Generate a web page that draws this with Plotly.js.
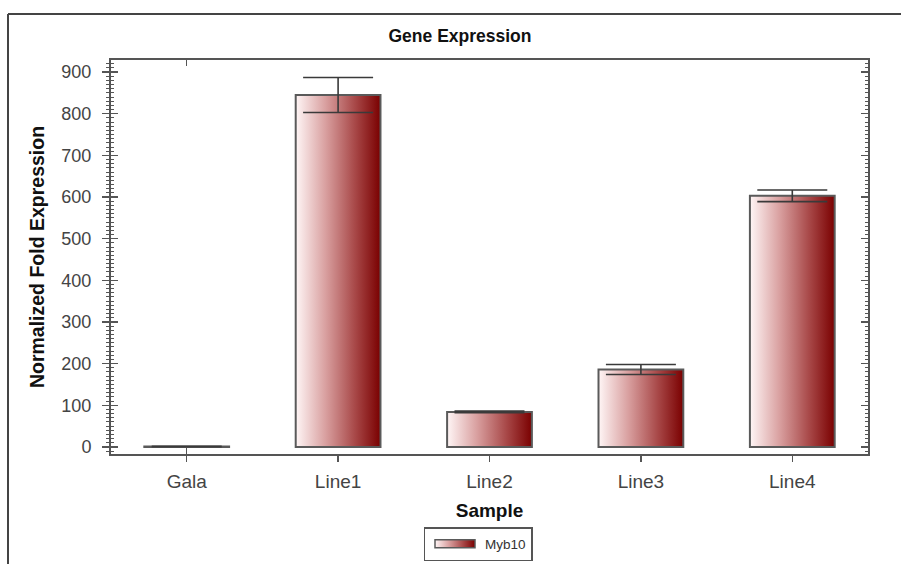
<!DOCTYPE html>
<html>
<head>
<meta charset="utf-8">
<script src="https://cdn.plot.ly/plotly-3.0.1.min.js"></script>
<style>html,body{margin:0;padding:0;background:#fff;}#chart{width:901px;height:564px;}</style>
</head>
<body>
<div id="chart"></div>
<script>
// ---- data ----
const categories = ['Gala', 'Line1', 'Line2', 'Line3', 'Line4'];
const values = [1, 845, 84, 186, 603];
const errors = [0.5, 42, 2, 12, 14];
const seriesName = 'Myb10';
const chartTitle = 'Gene Expression';
const xTitle = 'Sample';
const yTitle = 'Normalized Fold Expression';
const yTickVals = [0, 100, 200, 300, 400, 500, 600, 700, 800, 900];

const FONT = 'Liberation Sans, Arial, sans-serif';
const AX = '#555';

const trace = {
  type: 'bar',
  x: categories,
  y: values,
  name: seriesName,
  width: 0.56,
  marker: { color: '#b35555', line: { color: '#5a5a5a', width: 2 } },
  error_y: { type: 'data', array: errors, visible: true, color: '#3a3a3a', thickness: 1.6, width: 35 },
  showlegend: true
};
// invisible helper traces to activate overlay axes (for ticks crossing the axis lines)
const helperY = { type: 'scatter', x: [categories[0]], y: [0], xaxis: 'x', yaxis: 'y2', mode: 'markers', marker: { opacity: 0 }, showlegend: false, hoverinfo: 'skip' };
const helperX = { type: 'scatter', x: [categories[0]], y: [0], xaxis: 'x2', yaxis: 'y', mode: 'markers', marker: { opacity: 0 }, showlegend: false, hoverinfo: 'skip' };

const yRange = [-17, 929];
const xRange = [-0.5, 4.5];

const layout = {
  width: 901, height: 564,
  margin: { l: 111, r: 33, t: 60, b: 110, autoexpand: false },
  paper_bgcolor: '#fff', plot_bgcolor: '#fff',
  font: { family: FONT, color: '#333' },
  showlegend: true,
  title: { text: '<b>' + chartTitle + '</b>', font: { family: FONT, size: 17.5, color: '#111' }, x: 460 / 901, xref: 'container', xanchor: 'center', y: 1 - 36 / 564, yref: 'container', yanchor: 'middle' },
  xaxis: {
    range: xRange, type: 'category', showgrid: false, zeroline: false,
    showline: true, linecolor: AX, linewidth: 2, mirror: true,
    ticks: 'outside', ticklen: 6, tickcolor: AX, tickwidth: 1.5, ticklabelstandoff: 3,
    tickfont: { family: FONT, size: 19, color: '#444' },
    title: { text: '<b>' + xTitle + '</b>', font: { family: FONT, size: 19, color: '#111' }, standoff: 13 }
  },
  xaxis2: {
    range: xRange, type: 'category', overlaying: 'x', showgrid: false, zeroline: false,
    showline: false, mirror: 'allticks', ticks: 'inside', ticklen: 6, tickcolor: AX, tickwidth: 1.5,
    showticklabels: false
  },
  yaxis: {
    range: yRange, showgrid: false, zeroline: false,
    showline: true, linecolor: AX, linewidth: 2, mirror: true,
    tickvals: yTickVals, ticks: 'outside', ticklen: 7, tickcolor: AX, tickwidth: 1.5, ticklabelstandoff: 7,
    minor: { dtick: 10, ticks: 'outside', ticklen: 3, tickcolor: AX, tickwidth: 1 },
    tickfont: { family: FONT, size: 18, color: '#444' },
    title: { text: '<b>' + yTitle + '</b>', font: { family: FONT, size: 19.5, color: '#111' }, standoff: 12 }
  },
  yaxis2: {
    range: yRange, overlaying: 'y', side: 'left', showgrid: false, zeroline: false,
    showline: false, mirror: 'allticks', tickvals: yTickVals, ticks: 'inside', ticklen: 7, tickcolor: AX, tickwidth: 1.5,
    minor: { dtick: 10, ticks: 'inside', ticklen: 3, tickcolor: AX, tickwidth: 1 },
    showticklabels: false
  },
  legend: {
    orientation: 'h', xref: 'container', yref: 'container',
    x: 478 / 901, xanchor: 'center', y: (564 - 561) / 564, yanchor: 'bottom',
    bordercolor: '#555', borderwidth: 1.5, bgcolor: '#fff',
    font: { family: FONT, size: 13.5, color: '#333' },
    itemwidth: 50, tracegroupgap: 0
  },
  shapes: [
    { type: 'line', xref: 'paper', yref: 'paper', x0: (8 - 111) / 757, x1: (905 - 111) / 757, y0: (454 - 14) / 394, y1: (454 - 14) / 394, line: { color: '#444', width: 2 } },
    { type: 'line', xref: 'paper', yref: 'paper', x0: (8 - 111) / 757, x1: (8 - 111) / 757, y0: (454 - 14) / 394, y1: (454 - 570) / 394, line: { color: '#444', width: 2 } }
  ]
};

Plotly.newPlot('chart', [trace, helperY, helperX], layout, { displayModeBar: false, staticPlot: true }).then(function (gd) {
  const svgNS = 'http://www.w3.org/2000/svg';
  const svg = gd.querySelector('svg.main-svg');
  const defs = document.createElementNS(svgNS, 'defs');
  const grad = document.createElementNS(svgNS, 'linearGradient');
  grad.setAttribute('id', 'barGrad');
  grad.setAttribute('x1', '0'); grad.setAttribute('y1', '0');
  grad.setAttribute('x2', '1'); grad.setAttribute('y2', '0');
  [['0', '#fff6f6'], ['0.35', '#d9a0a0'], ['0.7', '#a84848'], ['1', '#7a0000']].forEach(function (s) {
    const st = document.createElementNS(svgNS, 'stop');
    st.setAttribute('offset', s[0]);
    st.setAttribute('stop-color', s[1]);
    grad.appendChild(st);
  });
  defs.appendChild(grad);
  svg.insertBefore(defs, svg.firstChild);
  gd.querySelectorAll('.trace.bars .point path').forEach(function (p) { p.style.fill = 'url(#barGrad)'; });
  gd.querySelectorAll('.legend .legendpoints path').forEach(function (p) {
    p.setAttribute('d', 'M20,4H-20V-4H20Z');
    p.style.fill = 'url(#barGrad)';
    p.style.stroke = '#5a5a5a';
    p.style.strokeWidth = '1.5px';
  });
});
</script>
</body>
</html>
